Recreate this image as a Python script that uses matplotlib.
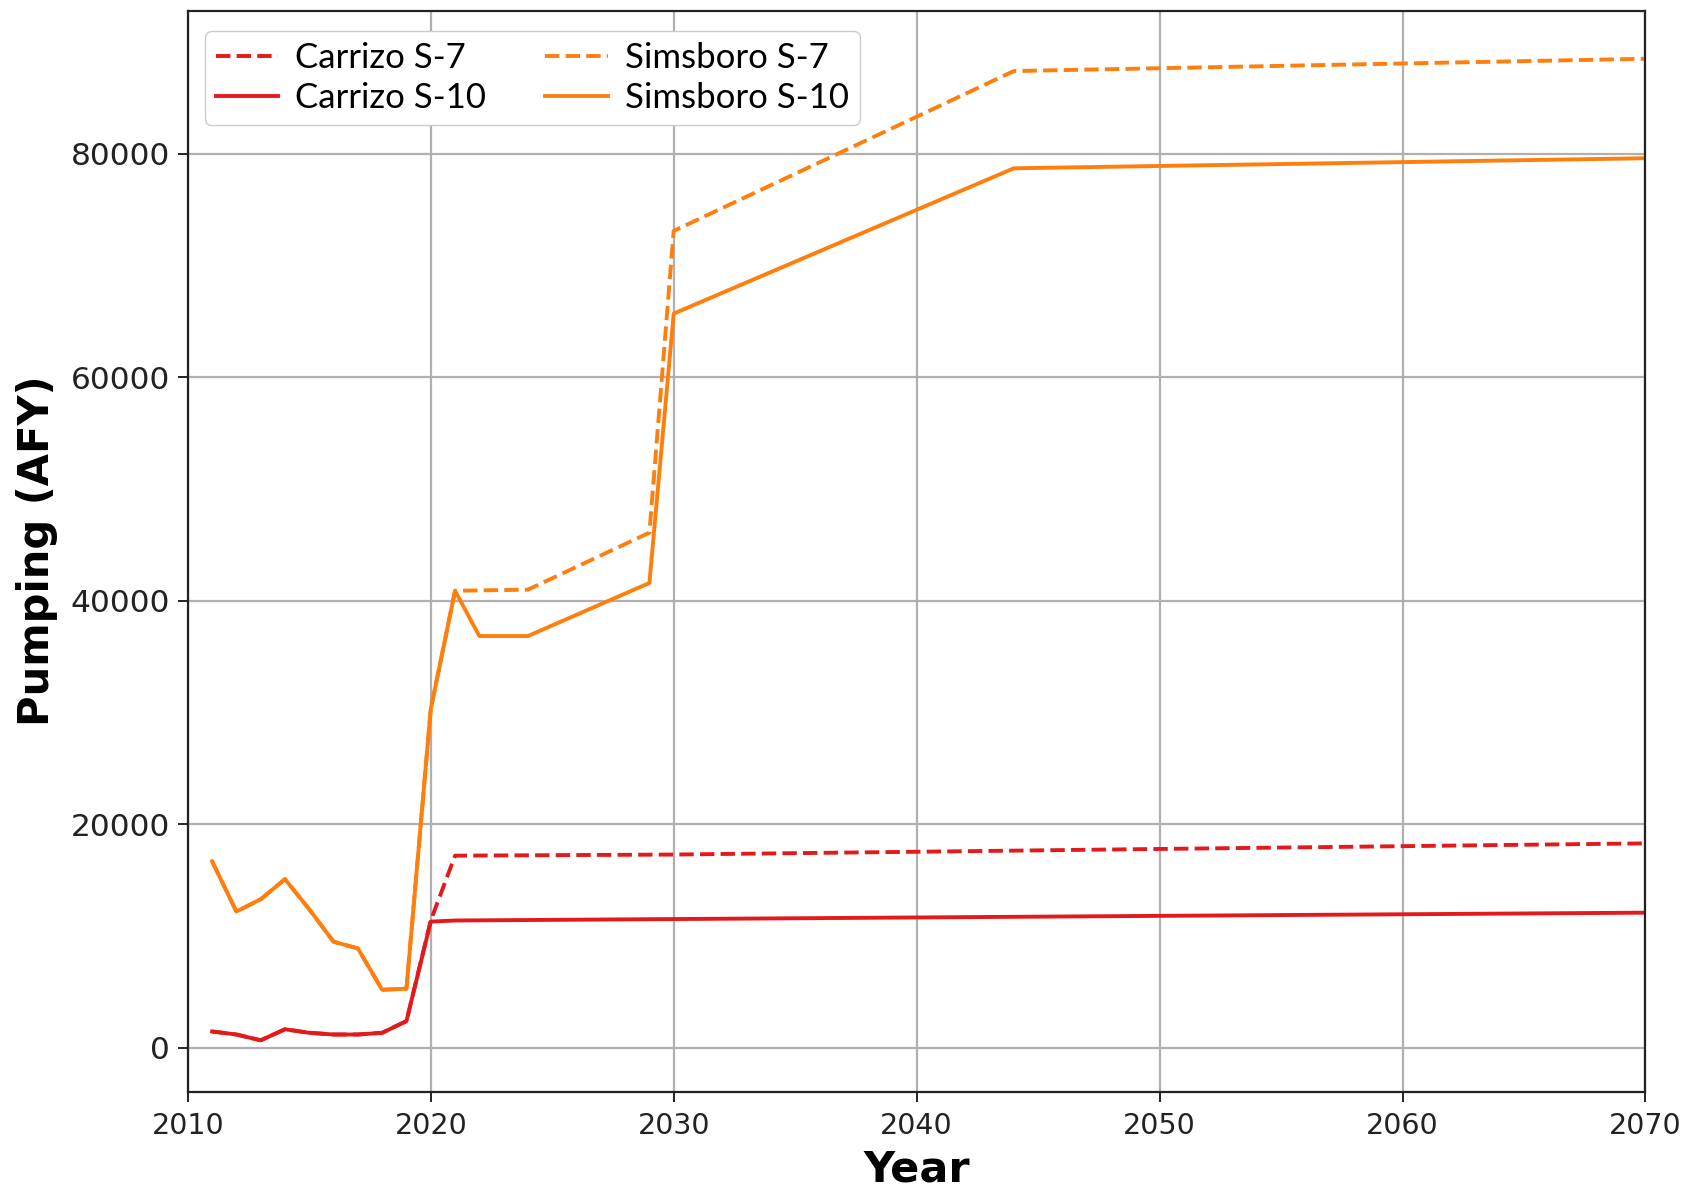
import matplotlib
matplotlib.use("Agg")
import matplotlib.pyplot as plt

# Historical + Simsboro S-10
sims10_years = [2011, 2012, 2013, 2014, 2015, 2016, 2017, 2018, 2019, 2020, 2021, 2022, 2024, 2029, 2030, 2044, 2070]
sims10_vals = [16700, 12200, 13300, 15100, 12400, 9500, 8900, 5200, 5300, 30300, 40900, 36850, 36850, 41600, 65700, 78700, 79600]

# Simsboro S-7 (shares historical period)
sims7_years = [2011, 2012, 2013, 2014, 2015, 2016, 2017, 2018, 2019, 2020, 2021, 2024, 2029, 2030, 2044, 2070]
sims7_vals = [16700, 12200, 13300, 15100, 12400, 9500, 8900, 5200, 5300, 30300, 40900, 41000, 46100, 73100, 87400, 88500]

# Carrizo S-10
carr10_years = [2011, 2012, 2013, 2014, 2015, 2016, 2017, 2018, 2019, 2020, 2021, 2070]
carr10_vals = [1470, 1200, 680, 1670, 1350, 1200, 1200, 1350, 2400, 11300, 11400, 12100]

# Carrizo S-7
carr7_years = [2011, 2012, 2013, 2014, 2015, 2016, 2017, 2018, 2019, 2020, 2021, 2030, 2070]
carr7_vals = [1470, 1200, 680, 1670, 1350, 1200, 1200, 1350, 2400, 11400, 17200, 17300, 18300]

RED = "#e31a1c"
ORANGE = "#ff7f0e"

fig = plt.figure(figsize=(16.92, 11.89), dpi=100)
ax = fig.add_axes([0.111, 0.082, 0.8615, 0.909])

lw = 2.8
ax.plot(carr7_years, carr7_vals, color=RED, ls="--", lw=lw, label="Carrizo S-7")
ax.plot(carr10_years, carr10_vals, color=RED, ls="-", lw=lw, label="Carrizo S-10")
ax.plot(sims7_years, sims7_vals, color=ORANGE, ls="--", lw=lw, label="Simsboro S-7")
ax.plot(sims10_years, sims10_vals, color=ORANGE, ls="-", lw=lw, label="Simsboro S-10")

ax.set_xlim(2010, 2070)
ax.set_ylim(-3900, 92800)
ax.set_xticks(range(2010, 2071, 10))
ax.set_yticks(range(0, 80001, 20000))
ax.grid(True, color="#b0b0b0", lw=1.6)
ax.set_axisbelow(True)
for s in ax.spines.values():
    s.set_linewidth(1.6)
    s.set_color("#222222")
ax.tick_params(length=7, width=1.4, colors="#222222")
ax.tick_params(axis="x", labelsize=20.5, pad=8)
ax.tick_params(axis="y", labelsize=22.5, pad=6)

ax.set_xlabel("Year", fontsize=31, fontweight="bold", labelpad=6)
ax.set_ylabel("Pumping (AFY)", fontsize=30, fontweight="bold", labelpad=9)

leg = ax.legend(loc="upper left", ncol=2, prop={"family": "Lato", "size": 25},
                frameon=True, fancybox=True, edgecolor="#cccccc", framealpha=1,
                handlelength=1.8, handletextpad=0.5, columnspacing=1.7,
                borderpad=0.3, labelspacing=0.25,
                bbox_to_anchor=(0.0, 0.997))

fig.savefig("out.png", dpi=100)
